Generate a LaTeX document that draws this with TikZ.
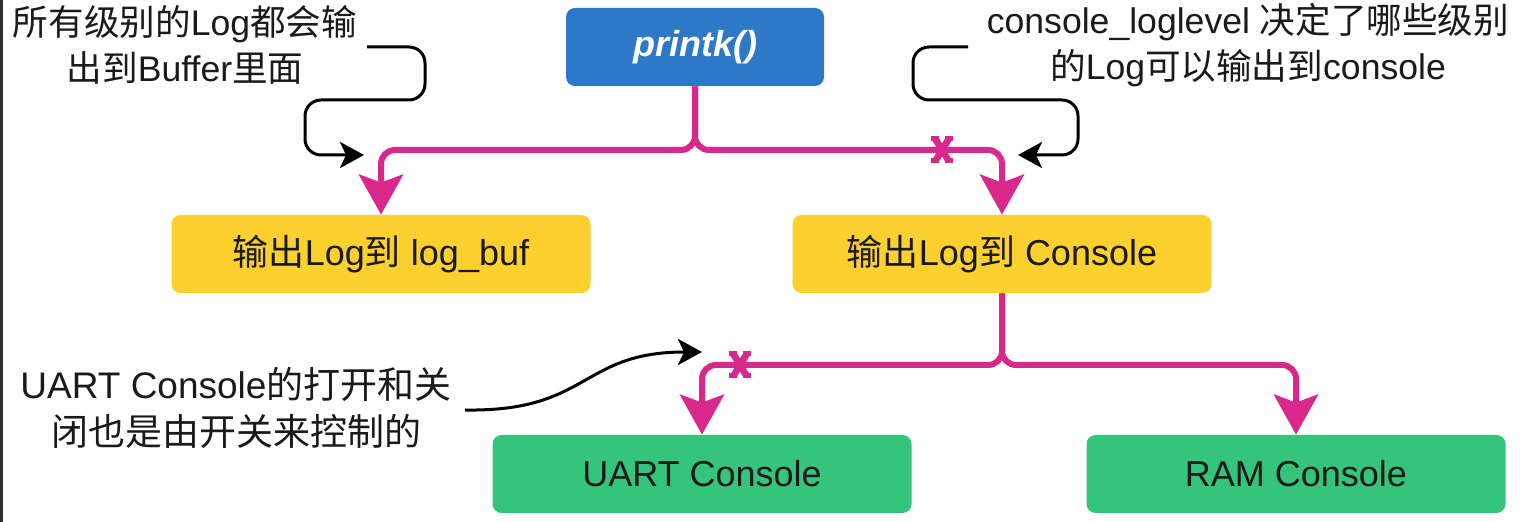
\documentclass[tikz,border=0pt]{standalone}
\usepackage{fontspec}
\setmainfont{Liberation Sans}
\newfontfamily\cjkfont{Noto Sans CJK SC}
\newcommand{\zh}[1]{{\cjkfont #1}}
\usetikzlibrary{arrows.meta,calc}
\definecolor{pblue}{HTML}{2E78C8}
\definecolor{pyellow}{HTML}{FCD02F}
\definecolor{pgreen}{HTML}{35C47C}
\definecolor{ppink}{HTML}{D9288B}
\definecolor{ptext}{HTML}{1A1A1A}
\definecolor{pedge}{HTML}{303030}
\tikzset{
  box/.style={rounded corners=4.5pt, minimum width=209.5pt, minimum height=39pt, inner sep=0pt, font=\fontsize{18}{21}\selectfont, text=ptext},
  bluebox/.style={box, fill=pblue, minimum width=129pt, text=white, font=\fontsize{18}{21}\selectfont\bfseries\itshape},
  yellowbox/.style={box, fill=pyellow},
  greenbox/.style={box, fill=pgreen},
  flow/.style={draw=ppink, line width=3pt, rounded corners=7pt, -{Stealth[length=20pt,width=22pt,inset=4pt]}},
  note/.style={align=center, text=ptext, font=\fontsize{17.8}{23}\selectfont, inner sep=0pt},
  notearrow/.style={draw=black, line width=1.5pt, rounded corners=8pt, -{Stealth[length=12pt,width=13pt,inset=3pt]}},
  xmark/.style={draw=ppink, line width=3.4pt}
}
\begin{document}
\begin{tikzpicture}[x=0.5pt,y=-0.5pt]
\useasboundingbox (0,0) rectangle (1520,522);
\fill[white] (0,0) rectangle (1520,522);
\fill[pedge] (0,0) rectangle (3,522);

% nodes
\node[bluebox]   (pk)   at (695,47)  {printk()};
\node[yellowbox] (lb)   at (381,254) {\zh{输出}Log\zh{到} log\_buf};
\node[yellowbox] (con)  at (1002,254) {\zh{输出}Log\zh{到} Console};
\node[greenbox]  (uart) at (702,474) {UART Console};
\node[greenbox]  (ram)  at (1296,474) {RAM Console};

% junction coordinates
\coordinate (j1) at (695,150);
\coordinate (j2) at (1002,365);

% pink connectors
\draw[flow] (pk.south) -- (j1) -| (lb.north);
\draw[flow] (pk.south) -- (j1) -| (con.north);
\draw[flow] (con.south) -- (j2) -| (uart.north);
\draw[flow] (con.south) -- (j2) -| (ram.north);

% X marks
\coordinate (x1) at (942,150);
\coordinate (x2) at (740,365);
\foreach \c in {x1,x2}{
  \draw[xmark] ($(\c)+(-7,-11.5)$) -- ($(\c)+(7,11.5)$);
  \draw[xmark] ($(\c)+(7,-11.5)$) -- ($(\c)+(-7,11.5)$);
  \draw[xmark,line width=2.5pt] ($(\c)+(-11,-11)$) -- ($(\c)+(-3,-11)$);
  \draw[xmark,line width=2.5pt] ($(\c)+(3,-11)$) -- ($(\c)+(11,-11)$);
  \draw[xmark,line width=2.5pt] ($(\c)+(-11,11)$) -- ($(\c)+(-3,11)$);
  \draw[xmark,line width=2.5pt] ($(\c)+(3,11)$) -- ($(\c)+(11,11)$);
}

% annotations
\node[note] (n1) at (185,45) {\zh{所有级别的}Log\zh{都会输}\\\zh{出到}Buffer\zh{里面}};
\node[note] (n2) at (1248,45) {console\_loglevel \zh{决定了哪些级别}\\\zh{的}Log\zh{可以输出到}console};
\node[note,font=\fontsize{18.5}{23.5}\selectfont] (n3) at (236,408) {UART Console\zh{的打开和关}\\\zh{闭也是由开关来控制的}};

% annotation arrows
\coordinate (a1s) at (367,47);
\coordinate (a1e) at (364,155);
\draw[notearrow] (a1s) -- (425,47) -- (425,100) -- (305,100) -- (305,155) -- (a1e);
\coordinate (a2s) at (968,47);
\coordinate (a2e) at (1018,155);
\draw[notearrow] (a2s) -- (913,47) -- (913,100) -- (1078,100) -- (1078,155) -- (a2e);
\coordinate (a3s) at (465,410);
\coordinate (a3e) at (702,352);
\draw[notearrow] (a3s) .. controls (590,412) and (580,352) .. (a3e);
\end{tikzpicture}
\end{document}
